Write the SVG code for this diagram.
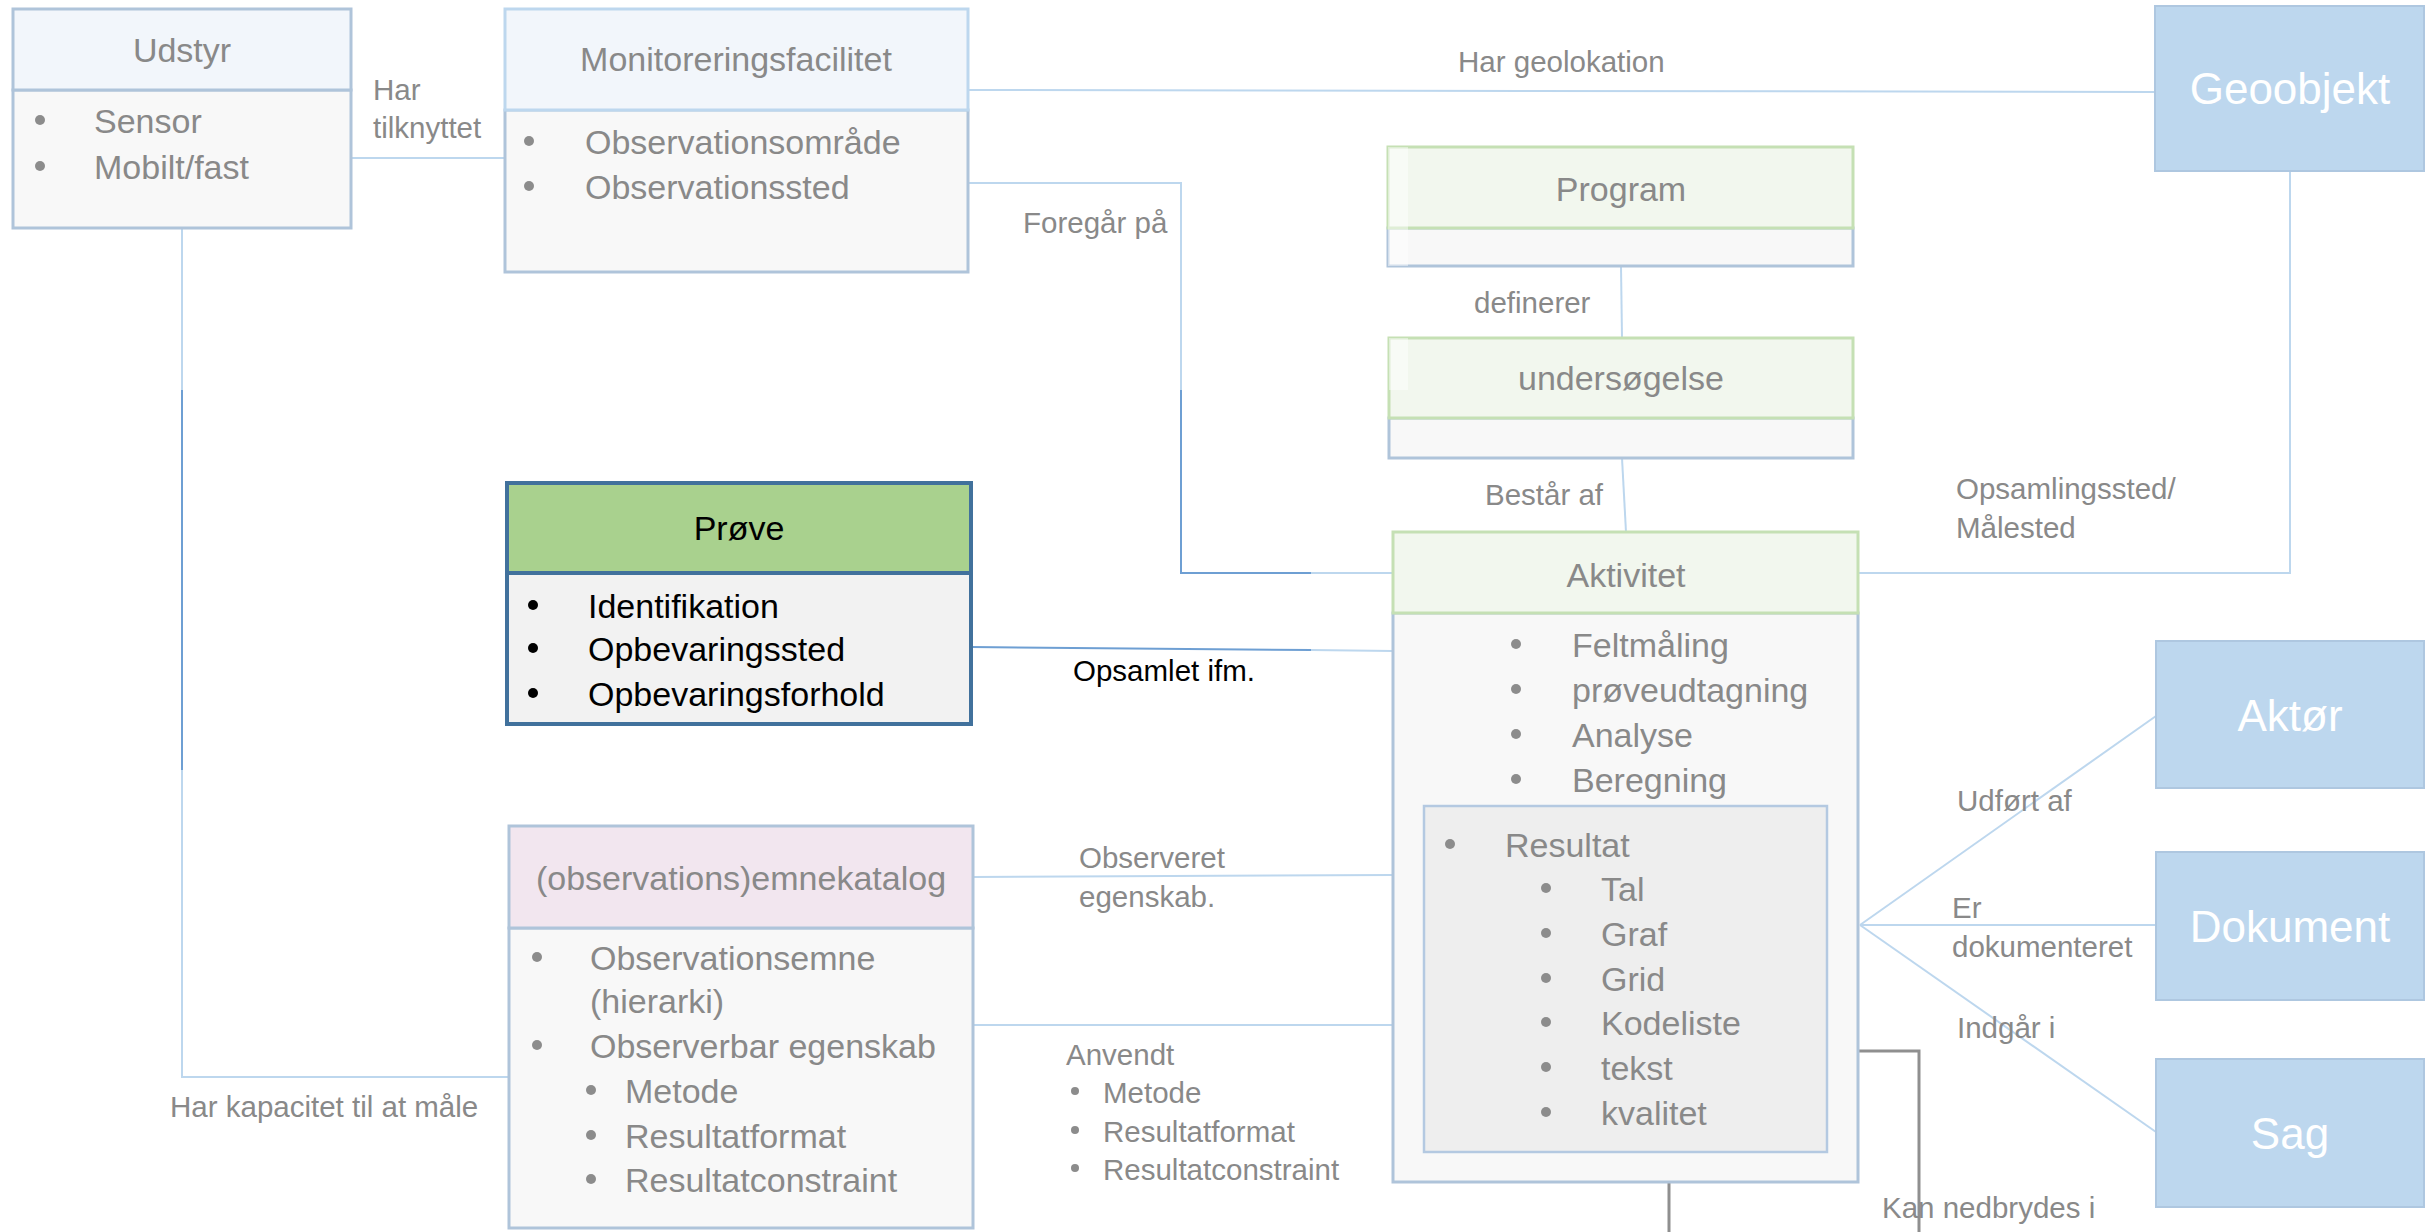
<svg xmlns="http://www.w3.org/2000/svg" width="2435" height="1232" viewBox="0 0 2435 1232">
<style>
text { font-family: "Liberation Sans", Arial, sans-serif; fill: #898989; }
.title { font-size: 34px; text-anchor: middle; }
.item { font-size: 34px; }
.lbl { font-size: 29.5px; }
.big { font-size: 44px; fill: #ffffff; text-anchor: middle; }
.blk { fill: #000000; }
.b { fill: #8C8C8C; }
.bk { fill: #000000; }
.hdrB { fill: #F2F6FB; stroke: #AFC4DA; stroke-width: 3; }
.hdrL { fill: #F2F6FB; stroke: #BDD7EE; stroke-width: 3; }
.hdrG { fill: #F2F7EE; stroke: #C5E0B4; stroke-width: 3; }
.hdrP { fill: #F2E6EF; stroke: #AFC4DA; stroke-width: 3; }
.body { fill: #F8F8F8; stroke: #AFC4DA; stroke-width: 3; }
.ent { fill: #BDD7EE; stroke: #AEC7E0; stroke-width: 2; }
.conn { fill: none; stroke: #BDD7EE; stroke-width: 2; }
.dark { fill: none; stroke: #6E9FD3; stroke-width: 2; }
.gray { fill: none; stroke: #8F8F8F; stroke-width: 3; }
</style>

<g id="connectors">
  <line class="conn" x1="351" y1="158" x2="505" y2="158"/>
  <line class="conn" x1="968" y1="90" x2="2155" y2="92"/>
  <polyline class="conn" points="968,183 1181,183 1181,573 1393,573"/>
  <polyline class="dark" points="1181,390 1181,573 1311,573"/>
  <line class="dark" x1="971" y1="647" x2="1311" y2="650"/>
  <line class="conn" x1="1311" y1="650" x2="1393" y2="651"/>
  <polyline class="conn" points="182,228 182,1077 509,1077"/>
  <line class="dark" x1="182" y1="390" x2="182" y2="770"/>
  <line class="conn" x1="973" y1="877" x2="1393" y2="875"/>
  <line class="conn" x1="973" y1="1025" x2="1424" y2="1025"/>
  <line class="conn" x1="1621" y1="266" x2="1622" y2="338"/>
  <line class="conn" x1="1622" y1="458" x2="1626" y2="532"/>
  <polyline class="conn" points="2290,171 2290,573 1858,573"/>
  <line class="conn" x1="1860" y1="925" x2="2156" y2="716"/>
  <line class="conn" x1="1860" y1="925" x2="2156" y2="925"/>
  <line class="conn" x1="1860" y1="925" x2="2156" y2="1132"/>
  <polyline class="gray" points="1858,1051 1919,1051 1919,1232"/>
  <line class="gray" x1="1669" y1="1182" x2="1669" y2="1232"/>
  <text class="lbl" x="373" y="100">Har</text>
  <text class="lbl" x="373" y="138">tilknyttet</text>
  <text class="lbl" x="1458" y="72">Har geolokation</text>
  <text class="lbl" x="1023" y="233">Foregår på</text>
  <text class="lbl" x="1474" y="313">definerer</text>
  <text class="lbl" x="1485" y="505">Består af</text>
  <text class="lbl" x="1956" y="499">Opsamlingssted/</text>
  <text class="lbl" x="1956" y="538">Målested</text>
  <text class="lbl blk" x="1073" y="681">Opsamlet ifm.</text>
  <text class="lbl" x="1079" y="868">Observeret</text>
  <text class="lbl" x="1079" y="907">egenskab.</text>
  <text class="lbl" x="1066" y="1065">Anvendt</text>
  <circle class="b" cx="1075" cy="1091" r="4"/>
  <circle class="b" cx="1075" cy="1130" r="4"/>
  <circle class="b" cx="1075" cy="1168" r="4"/>
  <text class="lbl" x="1103" y="1103">Metode</text>
  <text class="lbl" x="1103" y="1142">Resultatformat</text>
  <text class="lbl" x="1103" y="1180">Resultatconstraint</text>
  <text class="lbl" x="170" y="1117">Har kapacitet til at måle</text>
  <text class="lbl" x="1957" y="811">Udført af</text>
  <text class="lbl" x="1952" y="918">Er</text>
  <text class="lbl" x="1952" y="957">dokumenteret</text>
  <text class="lbl" x="1957" y="1038">Indgår i</text>
  <text class="lbl" x="1882" y="1218">Kan nedbrydes i</text>
</g>

<g id="udstyr">
  <rect class="body" x="13" y="90" width="338" height="138"/>
  <rect class="hdrB" x="13" y="9" width="338" height="81"/>
  <text class="title" x="182" y="62">Udstyr</text>
  <circle class="b" cx="40" cy="120" r="5"/>
  <circle class="b" cx="40" cy="166" r="5"/>
  <text class="item" x="94" y="133">Sensor</text>
  <text class="item" x="94" y="179">Mobilt/fast</text>
</g>

<g id="monitoreringsfacilitet">
  <rect class="body" x="505" y="110" width="463" height="162"/>
  <rect class="hdrL" x="505" y="9" width="463" height="101"/>
  <text class="title" x="736" y="71">Monitoreringsfacilitet</text>
  <circle class="b" cx="529" cy="141" r="5"/>
  <circle class="b" cx="529" cy="186" r="5"/>
  <text class="item" x="585" y="154">Observationsområde</text>
  <text class="item" x="585" y="199">Observationssted</text>
</g>

<g id="geoobjekt">
  <rect class="ent" x="2155" y="6" width="269" height="165"/>
  <text class="big" x="2290" y="104">Geoobjekt</text>
</g>

<g id="program">
  <rect class="body" x="1388" y="228" width="465" height="38"/>
  <rect class="hdrG" x="1388" y="147" width="465" height="81"/>
  <rect x="1388" y="147" width="20" height="119" fill="#ffffff" opacity="0.45"/>
  <text class="title" x="1621" y="201">Program</text>
</g>

<g id="undersoegelse">
  <rect class="body" x="1389" y="418" width="464" height="40"/>
  <rect class="hdrG" x="1389" y="338" width="464" height="80"/>
  <rect x="1389" y="338" width="19" height="52" fill="#ffffff" opacity="0.45"/>
  <text class="title" x="1621" y="390">undersøgelse</text>
</g>

<g id="aktivitet">
  <rect class="body" x="1393" y="613" width="465" height="569"/>
  <rect class="hdrG" x="1393" y="532" width="465" height="81"/>
  <text class="title" x="1626" y="587">Aktivitet</text>
  <circle class="b" cx="1516" cy="644" r="5"/>
  <circle class="b" cx="1516" cy="689" r="5"/>
  <circle class="b" cx="1516" cy="734" r="5"/>
  <circle class="b" cx="1516" cy="779" r="5"/>
  <text class="item" x="1572" y="657">Feltmåling</text>
  <text class="item" x="1572" y="702">prøveudtagning</text>
  <text class="item" x="1572" y="747">Analyse</text>
  <text class="item" x="1572" y="792">Beregning</text>
</g>

<g id="resultat">
  <rect x="1424" y="806" width="403" height="346" fill="#EEEEEE" stroke="#B4C9E1" stroke-width="2.5"/>
  <circle class="b" cx="1450" cy="844" r="5"/>
  <text class="item" x="1505" y="857">Resultat</text>
  <circle class="b" cx="1546" cy="888" r="5"/>
  <circle class="b" cx="1546" cy="933" r="5"/>
  <circle class="b" cx="1546" cy="978" r="5"/>
  <circle class="b" cx="1546" cy="1022" r="5"/>
  <circle class="b" cx="1546" cy="1067" r="5"/>
  <circle class="b" cx="1546" cy="1112" r="5"/>
  <text class="item" x="1601" y="901">Tal</text>
  <text class="item" x="1601" y="946">Graf</text>
  <text class="item" x="1601" y="991">Grid</text>
  <text class="item" x="1601" y="1035">Kodeliste</text>
  <text class="item" x="1601" y="1080">tekst</text>
  <text class="item" x="1601" y="1125">kvalitet</text>
</g>

<g id="proeve">
  <rect x="507" y="573" width="464" height="151" fill="#F2F2F2" stroke="#41719C" stroke-width="4"/>
  <rect x="507" y="483" width="464" height="90" fill="#A9D18E" stroke="#41719C" stroke-width="4"/>
  <text class="title blk" x="739" y="540">Prøve</text>
  <circle class="bk" cx="533" cy="605" r="5"/>
  <circle class="bk" cx="533" cy="648" r="5"/>
  <circle class="bk" cx="533" cy="693" r="5"/>
  <text class="item blk" x="588" y="618">Identifikation</text>
  <text class="item blk" x="588" y="661">Opbevaringssted</text>
  <text class="item blk" x="588" y="706">Opbevaringsforhold</text>
</g>

<g id="emnekatalog">
  <rect class="body" x="509" y="928" width="464" height="300"/>
  <rect class="hdrP" x="509" y="826" width="464" height="102"/>
  <text class="title" x="741" y="890">(observations)emnekatalog</text>
  <circle class="b" cx="537" cy="957" r="5"/>
  <circle class="b" cx="537" cy="1045" r="5"/>
  <text class="item" x="590" y="970">Observationsemne</text>
  <text class="item" x="590" y="1013">(hierarki)</text>
  <text class="item" x="590" y="1058">Observerbar egenskab</text>
  <circle class="b" cx="591" cy="1090" r="5"/>
  <circle class="b" cx="591" cy="1135" r="5"/>
  <circle class="b" cx="591" cy="1179" r="5"/>
  <text class="item" x="625" y="1103">Metode</text>
  <text class="item" x="625" y="1148">Resultatformat</text>
  <text class="item" x="625" y="1192">Resultatconstraint</text>
</g>

<g id="aktoer">
  <rect class="ent" x="2156" y="641" width="268" height="147"/>
  <text class="big" x="2290" y="731">Aktør</text>
</g>

<g id="dokument">
  <rect class="ent" x="2156" y="852" width="268" height="148"/>
  <text class="big" x="2290" y="942">Dokument</text>
</g>

<g id="sag">
  <rect class="ent" x="2156" y="1059" width="268" height="148"/>
  <text class="big" x="2290" y="1149">Sag</text>
</g>
</svg>
